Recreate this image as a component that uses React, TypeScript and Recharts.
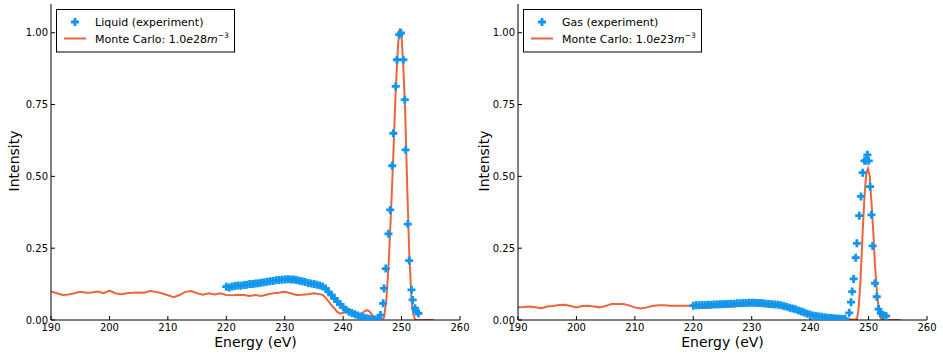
import React from 'react';
import { ComposedChart, Scatter, Line, XAxis, YAxis, Legend } from 'recharts';

// ---- data ----
const xTicks = [190, 200, 210, 220, 230, 240, 250, 260];
const yTicks = [0, 0.25, 0.5, 0.75, 1.0];

// Liquid, experiment (continuum + peak)
const liquidExpEnergy = [
  220, 220.5, 221, 221.5, 222, 222.5, 223, 223.5, 224, 224.5, 225, 225.5, 226, 226.5, 227, 227.5,
  228, 228.5, 229, 229.5, 230, 230.5, 231, 231.5, 232, 232.5, 233, 233.5, 234, 234.5, 235, 235.5,
  236, 236.5, 237, 237.5, 238, 238.5, 239, 239.5, 240, 240.5, 241, 241.5, 242, 242.5, 243, 243.5,
  244, 244.5, 245, 245.5, 246, 246.4, 246.85, 247.0, 247.3, 247.76, 248.05, 248.4, 248.6, 249.0,
  249.2, 249.6, 249.9, 250.3, 250.55, 250.7, 251.07, 251.3, 251.7, 251.9, 252.3, 252.5, 252.9,
];
const liquidExpIntensity = [
  0.116, 0.113, 0.117, 0.118, 0.12, 0.119, 0.122, 0.123, 0.125, 0.125, 0.127, 0.128, 0.13, 0.131, 0.133, 0.135,
  0.136, 0.138, 0.139, 0.14, 0.141, 0.142, 0.141, 0.141, 0.139, 0.137, 0.135, 0.132, 0.129, 0.127, 0.125, 0.123,
  0.12, 0.117, 0.11, 0.098, 0.087, 0.075, 0.064, 0.054, 0.044, 0.036, 0.029, 0.024, 0.02, 0.016, 0.012, 0.009,
  0.006, 0.004, 0.002, 0.002, 0.004, 0.017, 0.058, 0.11, 0.179, 0.30, 0.383, 0.537, 0.65, 0.813,
  0.906, 0.993, 0.999, 0.906, 0.767, 0.592, 0.334, 0.207, 0.105, 0.07, 0.041, 0.03, 0.023,
];

// Liquid, Monte Carlo
const liquidMcEnergy = [
  190, 191, 192, 193, 194, 195, 196, 197, 198, 199, 200, 201, 202, 203, 204, 205, 206, 207, 208, 209,
  210, 211, 212, 213, 214, 215, 216, 217, 218, 219, 220, 221, 222, 223, 224, 225, 226, 227, 228, 229,
  230, 231, 232, 233, 234, 235, 236, 236.5, 237, 237.5, 238, 238.5, 239, 239.5, 240, 240.5, 241, 241.5,
  242, 242.5, 243, 243.5, 244, 244.5, 245, 245.5, 246, 246.5, 247, 247.4, 247.8, 248.2, 248.6, 249.0,
  249.4, 249.7, 250.0, 250.3, 250.6, 251.0, 251.3, 251.7, 252.0, 252.3, 252.6, 255.5,
];
const liquidMcIntensity = [
  0.099, 0.093, 0.087, 0.089, 0.093, 0.098, 0.095, 0.096, 0.099, 0.093, 0.102, 0.093, 0.09, 0.093, 0.095, 0.096, 0.095, 0.102, 0.097, 0.093,
  0.086, 0.079, 0.087, 0.098, 0.101, 0.093, 0.088, 0.093, 0.089, 0.093, 0.087, 0.086, 0.087, 0.087, 0.084, 0.087, 0.084, 0.089, 0.093, 0.095,
  0.098, 0.093, 0.087, 0.088, 0.09, 0.093, 0.09, 0.087, 0.078, 0.065, 0.052, 0.04, 0.028, 0.022, 0.025, 0.032, 0.034, 0.03,
  0.024, 0.019, 0.02, 0.028, 0.034, 0.03, 0.017, 0.007, 0.002, 0.001, 0.008, 0.07, 0.2, 0.38, 0.58, 0.8,
  0.96, 1.015, 0.99, 0.88, 0.74, 0.44, 0.24, 0.07, 0.02, 0.002, 0, 0,
];

// Gas, experiment
const gasExpEnergy = [
  220, 220.5, 221, 221.5, 222, 222.5, 223, 223.5, 224, 224.5, 225, 225.5, 226, 226.5, 227, 227.5,
  228, 228.5, 229, 229.5, 230, 230.5, 231, 231.5, 232, 232.5, 233, 233.5, 234, 234.5, 235, 235.5,
  236, 236.5, 237, 237.5, 238, 238.5, 239, 239.5, 240, 240.5, 241, 241.5, 242, 242.5, 243, 243.5,
  244, 244.5, 245, 245.5, 246, 246.7, 247.0, 247.2, 247.45, 247.8, 248.0, 248.4, 248.7, 249.0,
  249.3, 249.5, 249.8, 250.03, 250.25, 250.5, 250.7, 251.1, 251.4, 251.7, 252.1, 252.5, 253.0,
];
const gasExpIntensity = [
  0.05, 0.051, 0.051, 0.052, 0.052, 0.053, 0.053, 0.054, 0.054, 0.055, 0.055, 0.056, 0.056, 0.057, 0.057, 0.058,
  0.058, 0.059, 0.059, 0.06, 0.06, 0.06, 0.059, 0.059, 0.058, 0.057, 0.056, 0.055, 0.054, 0.053, 0.051, 0.049,
  0.046, 0.043, 0.04, 0.037, 0.033, 0.03, 0.026, 0.022, 0.019, 0.016, 0.014, 0.012, 0.011, 0.01, 0.008, 0.007,
  0.006, 0.005, 0.004, 0.004, 0.004, 0.025, 0.062, 0.099, 0.143, 0.217, 0.267, 0.363, 0.43, 0.513,
  0.554, 0.555, 0.575, 0.554, 0.464, 0.366, 0.258, 0.128, 0.081, 0.038, 0.023, 0.017, 0.014,
];

// Gas, Monte Carlo
const gasMcEnergy = [
  190, 191, 192, 193, 194, 195, 196, 197, 198, 199, 200, 201, 202, 203, 204, 205, 206, 207, 208, 209,
  210, 211, 212, 213, 214, 215, 216, 217, 218, 219, 220, 221, 222, 223, 224, 225, 226, 227, 228, 229,
  230, 231, 232, 233, 234, 235, 236, 237, 238, 239, 240, 241, 242, 243, 244, 245, 246, 247, 248.0,
  248.3, 248.6, 249.0, 249.3, 249.6, 249.9, 250.2, 250.5, 250.8, 251.1, 251.5, 251.9, 252.3, 255.5,
];
const gasMcIntensity = [
  0.044, 0.045, 0.047, 0.044, 0.041, 0.047, 0.049, 0.052, 0.053, 0.049, 0.044, 0.049, 0.05, 0.047, 0.044, 0.049, 0.056, 0.056, 0.056, 0.051,
  0.044, 0.04, 0.044, 0.049, 0.051, 0.051, 0.05, 0.05, 0.05, 0.05, 0.049, 0.045, 0.042, 0.044, 0.047, 0.049, 0.049, 0.049, 0.05, 0.051,
  0.053, 0.051, 0.05, 0.049, 0.049, 0.047, 0.041, 0.035, 0.028, 0.02, 0.014, 0.017, 0.014, 0.009, 0.014, 0.012, 0.006, 0.002, 0.002,
  0.04, 0.13, 0.31, 0.43, 0.51, 0.527, 0.5, 0.41, 0.31, 0.19, 0.08, 0.015, 0, 0,
];

const BLUE = '#1196ef';
const ORANGE = '#e9663b';
const FONT = 'DejaVu Sans, sans-serif';

const zip = (xs: number[], ys: number[]) => xs.map((x, i) => ({ x, y: ys[i] }));

// filled plus marker, like matplotlib 'P'
const Plus = (props: any) => {
  const { cx, cy } = props;
  if (cx == null || cy == null) return null;
  const a = 4, b = 1.4;
  const d = `M${cx - b},${cy - a}H${cx + b}V${cy - b}H${cx + a}V${cy + b}H${cx + b}V${cy + a}H${cx - b}V${cy + b}H${cx - a}V${cy - b}H${cx - b}Z`;
  return <path d={d} fill={BLUE} />;
};

const LegendBox = ({ expLabel, density }: { expLabel: string; density: string }) => (
  <svg width={180} height={44} style={{ display: 'block' }}>
    <rect x={0.5} y={0.5} width={178} height={42.5} fill="#fff" stroke="#000" strokeWidth={1} />
    <Plus cx={19} cy={13} />
    <text x={39} y={17} fontSize={11} fontFamily={FONT} fill="#000">{expLabel}</text>
    <line x1={8} x2={30} y1={29.5} y2={29.5} stroke={ORANGE} strokeWidth={2} />
    <text x={39} y={33.5} fontSize={11} fontFamily={FONT} fill="#000">
      Monte Carlo: 1.0<tspan fontStyle="italic">e</tspan>{density}<tspan fontStyle="italic">m</tspan>
      <tspan fontSize={7.5} dy={-4.5}>−3</tspan>
    </text>
  </svg>
);

interface PanelProps {
  exp: { x: number; y: number }[];
  mc: { x: number; y: number }[];
  expLabel: string;
  density: string;
  left: number;
  axisWidth: number;
  marginRight: number;
  legendLeft: number;
}

const Panel = ({ exp, mc, expLabel, density, left, axisWidth, marginRight, legendLeft }: PanelProps) => (
  <div style={{ position: 'absolute', left, top: 0 }}>
    <ComposedChart
      width={470}
      height={355}
      margin={{ top: 4, right: marginRight, left: 0, bottom: 0 }}
      style={{ fontFamily: FONT }}
    >
      <XAxis
        xAxisId="b"
        type="number"
        dataKey="x"
        domain={[190, 260]}
        ticks={xTicks}
        allowDataOverflow
        height={35}
        stroke="#000"
        tickSize={-4}
        tickMargin={8}
        tick={{ fontSize: 10, fill: '#000', fontFamily: FONT }}
        label={{
          content: (p: any) => (
            <text x={p.viewBox.x + p.viewBox.width / 2} y={347} textAnchor="middle" fontSize={14} fontFamily={FONT} fill="#000">
              Energy (eV)
            </text>
          ),
        }}
      />
      <XAxis xAxisId="t" orientation="top" type="number" dataKey="x" domain={[190, 260]} ticks={xTicks} height={0} stroke="#000" tickSize={-4} tick={false} />
      <YAxis
        yAxisId="l"
        type="number"
        domain={[0, 1.1]}
        ticks={yTicks}
        allowDataOverflow
        width={axisWidth}
        stroke="#000"
        tickSize={-4}
        tickMargin={7}
        tickFormatter={(v: number) => v.toFixed(2)}
        tick={{ fontSize: 10, fill: '#000', fontFamily: FONT }}
        label={{
          content: (p: any) => {
            const cx = p.viewBox.x + 14;
            const cy = 161;
            return (
              <text x={cx} y={cy} transform={`rotate(-90 ${cx} ${cy})`} textAnchor="middle" dominantBaseline="central" fontSize={14} fontFamily={FONT} fill="#000">
                Intensity
              </text>
            );
          },
        }}
      />
      <YAxis yAxisId="r" orientation="right" type="number" domain={[0, 1.1]} ticks={yTicks} width={0} stroke="#000" tickSize={-4} tick={false} />
      <Legend
        layout="horizontal"
        verticalAlign="middle"
        wrapperStyle={{ left: legendLeft, top: 9, width: 'auto', height: 'auto' }}
        content={() => <LegendBox expLabel={expLabel} density={density} />}
      />
      <Scatter xAxisId="b" yAxisId="l" data={exp} dataKey="y" shape={Plus} isAnimationActive={false} />
      <Line xAxisId="b" yAxisId="l" data={mc} dataKey="y" type="linear" stroke={ORANGE} strokeWidth={2} dot={false} activeDot={false} isAnimationActive={false} />
    </ComposedChart>
  </div>
);

export default function App() {
  return (
    <div style={{ position: 'absolute', left: 0, top: 0, width: 943, height: 355, background: '#fff' }}>
      <Panel
        exp={zip(liquidExpEnergy, liquidExpIntensity)}
        mc={zip(liquidMcEnergy, liquidMcIntensity)}
        expLabel="Liquid (experiment)"
        density="28"
        left={0}
        axisWidth={51}
        marginRight={10}
        legendLeft={56}
      />
      <Panel
        exp={zip(gasExpEnergy, gasExpIntensity)}
        mc={zip(gasMcEnergy, gasMcIntensity)}
        expLabel="Gas (experiment)"
        density="23"
        left={470}
        axisWidth={48}
        marginRight={13}
        legendLeft={53}
      />
    </div>
  );
}
